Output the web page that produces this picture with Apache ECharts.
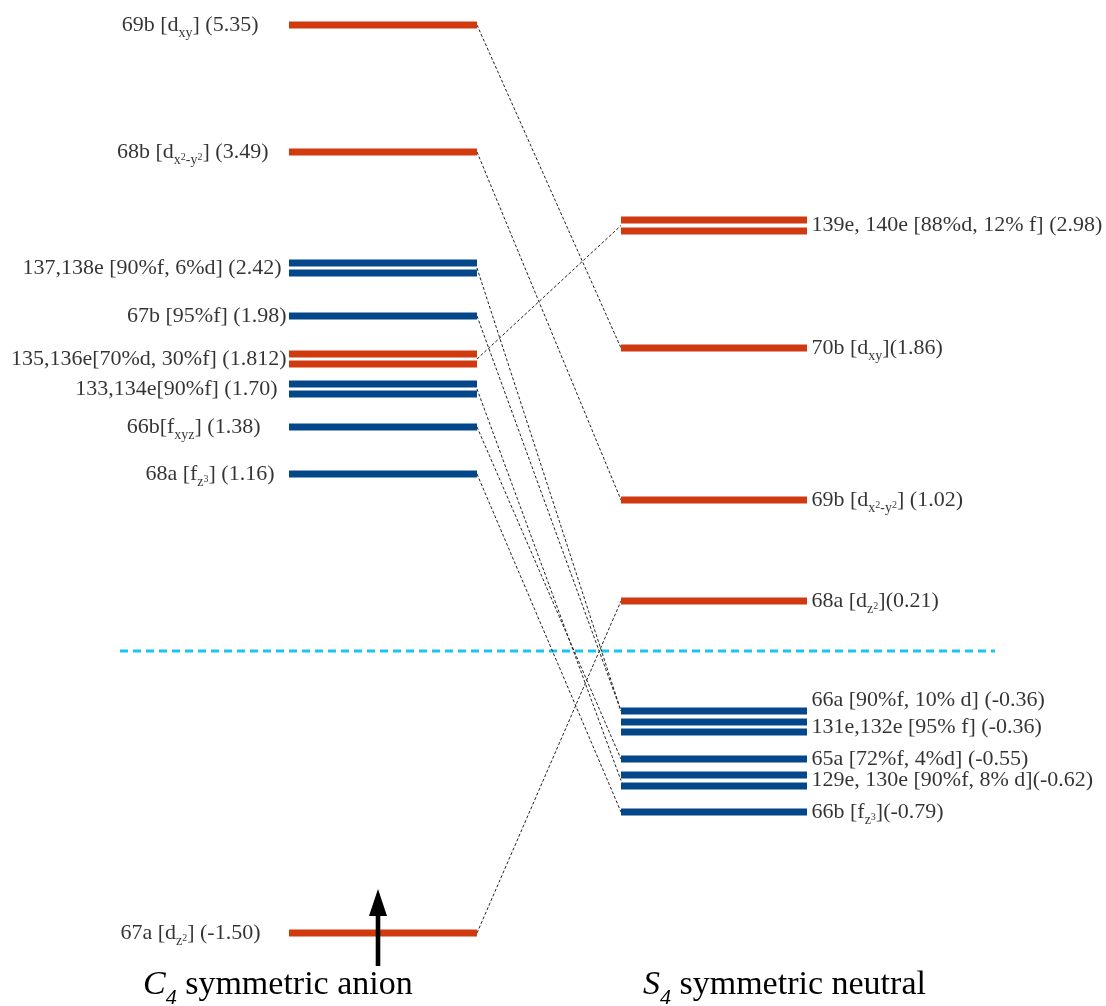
<!DOCTYPE html>
<html>
<head>
<meta charset="utf-8">
<script src="https://cdn.jsdelivr.net/npm/echarts@6/dist/echarts.min.js"></script>
<style>
html, body { margin: 0; padding: 0; background: #fff; }
#chart { width: 1106px; height: 1006px; }
</style>
</head>
<body>
<div id="chart"></div>
<script>
// C4 symmetric anion (left column), top to bottom
// _{..} = subscript, ^{..} = superscript
const leftLabels = [
    '69b [d_{xy}] (5.35)',
    '68b [d_{x^{2}-y^{2}}] (3.49)',
    '137,138e [90%f, 6%d] (2.42)',
    '67b [95%f] (1.98)',
    '135,136e[70%d, 30%f] (1.812)',
    '133,134e[90%f] (1.70)',
    '66b[f_{xyz}] (1.38)',
    '68a [f_{z^{3}}] (1.16)',
    '67a [d_{z^{2}}] (-1.50)'
];
// diagram height of each bar (degenerate e levels have two bars)
const leftLevels = [[25], [152], [263, 273], [316], [354, 364], [384, 394], [427], [474], [933]];
const leftChar = ['d', 'd', 'f', 'f', 'd', 'f', 'f', 'f', 'd'];

// S4 symmetric neutral (right column)
const rightLabels = [
    '139e, 140e [88%d, 12% f] (2.98)',
    '70b [d_{xy}](1.86)',
    '69b [d_{x^{2}-y^{2}}] (1.02)',
    '68a [d_{z^{2}}](0.21)',
    '66a [90%f, 10% d] (-0.36)',
    '131e,132e [95% f] (-0.36)',
    '65a [72%f, 4%d] (-0.55)',
    '129e, 130e [90%f, 8% d](-0.62)',
    '66b [f_{z^{3}}](-0.79)'
];
const rightLevels = [[220, 231], [348], [500], [601], [711], [722, 732], [759], [775, 786], [812]];
const rightChar = ['d', 'd', 'd', 'd', 'f', 'f', 'f', 'f', 'f'];

// correlation lines: [left level, right level]
const links = [[0, 1], [1, 2], [2, 4], [3, 4], [4, 0], [5, 7], [6, 6], [7, 8], [8, 3]];

const fermiLevel = 651;
const electronLevel = 8; // unpaired electron sits in 67a

// layout
const W = 1106, H = 1006;
const colLeft = [289, 477];
const colRight = [621, 807];
const fermiSpan = [120, 995];
const leftLabelGap = [28, 18, 5, 0, 0, 9, 26, 12, 26];
const rightLabelShift = [0, 0, 0, 0, -11, 0, 0, 0, 0];
const RED = '#D1390F';
const BLUE = '#03478A';
const INK = '#000';
const SERIF = "'Liberation Serif', 'Times New Roman', serif";

const mean = arr => arr.reduce((a, b) => a + b, 0) / arr.length;

function toRich(str) {
    const stack = ['n'];
    return str.split(/(_\{|\^\{|\})/).map(tok => {
        if (tok === '_{') { stack.push('s'); return ''; }
        if (tok === '^{') { stack.push('p'); return ''; }
        if (tok === '}') { stack.pop(); return ''; }
        return tok ? '{' + stack[stack.length - 1] + '|' + tok + '}' : '';
    }).join('');
}

const labelRich = {
    n: { fontSize: 22, lineHeight: 32, fontFamily: SERIF, color: INK },
    s: { fontSize: 14, lineHeight: 32, fontFamily: SERIF, color: INK, padding: [17, 0, 0, 0] },
    p: { fontSize: 10, lineHeight: 32, fontFamily: SERIF, color: INK, padding: [11, 0, 0, 0] }
};

const titleRich = {
    i: { fontSize: 34, fontStyle: 'italic', fontWeight: 'normal', fontFamily: SERIF, color: INK, lineHeight: 54 },
    is: { fontSize: 22, fontStyle: 'italic', fontWeight: 'normal', fontFamily: SERIF, color: INK, lineHeight: 54, padding: [26, 0, 0, 0] },
    n: { fontSize: 34, fontWeight: 'normal', fontFamily: SERIF, color: INK, lineHeight: 54 }
};

// bars: [x0, x1, y, isF]
const bars = [];
leftLevels.forEach((ys, i) => ys.forEach(y => bars.push([colLeft[0], colLeft[1], y, leftChar[i] === 'f' ? 1 : 0])));
rightLevels.forEach((ys, i) => ys.forEach(y => bars.push([colRight[0], colRight[1], y, rightChar[i] === 'f' ? 1 : 0])));

const leftLabelData = leftLabels.map((t, i) => ({
    name: t,
    value: [colLeft[0] - leftLabelGap[i], mean(leftLevels[i])],
    label: { position: 'left', distance: 2 }
}));
const rightLabelData = rightLabels.map((t, i) => ({
    name: t,
    value: [colRight[1], mean(rightLevels[i]) + rightLabelShift[i]],
    label: { position: 'right', distance: 4 }
}));

const linkData = links.map(([l, r]) => ({
    coords: [[colLeft[1], mean(leftLevels[l])], [colRight[0], mean(rightLevels[r])]]
}));

const chart = echarts.init(document.getElementById('chart'));
const options = {
    animation: false,
    backgroundColor: '#fff',
    grid: { left: 0, right: 0, top: 0, bottom: 0 },
    xAxis: { type: 'value', min: 0, max: W, show: false },
    yAxis: { type: 'value', min: 0, max: H, inverse: true, show: false },
    title: [
        {
            text: '{i|C}{is|4}{n| symmetric anion}',
            left: 143, top: 958, padding: 0,
            textStyle: { fontWeight: 'normal', rich: titleRich }
        },
        {
            text: '{i|S}{is|4}{n| symmetric neutral}',
            left: 643, top: 958, padding: 0,
            textStyle: { fontWeight: 'normal', rich: titleRich }
        }
    ],
    series: [
        {
            name: 'Fermi level',
            type: 'line',
            data: [[fermiSpan[0], fermiLevel], [fermiSpan[1], fermiLevel]],
            symbol: 'none',
            silent: true,
            lineStyle: { color: '#18C6F0', width: 3, type: [8, 5] },
            z: 1
        },
        {
            name: 'correlation',
            type: 'lines',
            coordinateSystem: 'cartesian2d',
            silent: true,
            data: linkData,
            lineStyle: { color: '#222', width: 1, type: [3, 2], opacity: 1 },
            z: 2
        },
        {
            name: 'levels',
            type: 'custom',
            data: bars,
            encode: { x: [0, 1], y: 2 },
            clip: false,
            silent: true,
            z: 3,
            renderItem: function (params, api) {
                const p0 = api.coord([api.value(0), api.value(2)]);
                const p1 = api.coord([api.value(1), api.value(2)]);
                return {
                    type: 'rect',
                    shape: { x: p0[0], y: p0[1] - 3.5, width: p1[0] - p0[0], height: 7 },
                    style: { fill: api.value(3) ? BLUE : RED }
                };
            }
        },
        {
            name: 'electron',
            type: 'custom',
            data: [[(colLeft[0] + colLeft[1]) / 2 - 5, mean(leftLevels[electronLevel])]],
            encode: { x: 0, y: 1 },
            clip: false,
            silent: true,
            z: 4,
            renderItem: function (params, api) {
                const c = api.coord([api.value(0), api.value(1)]);
                return {
                    type: 'group',
                    children: [
                        { type: 'rect', shape: { x: c[0] - 2.3, y: c[1] - 20, width: 4.6, height: 53 }, style: { fill: '#000' } },
                        { type: 'polygon', shape: { points: [[c[0], c[1] - 44], [c[0] - 9, c[1] - 17], [c[0] + 9, c[1] - 17]] }, style: { fill: '#000' } }
                    ]
                };
            }
        },
        {
            name: 'labels',
            type: 'scatter',
            data: leftLabelData.concat(rightLabelData),
            symbolSize: 1,
            itemStyle: { color: 'transparent' },
            silent: true,
            z: 5,
            label: {
                show: true,
                formatter: p => toRich(p.name),
                fontFamily: SERIF,
                fontSize: 22,
                color: INK,
                rich: labelRich
            }
        }
    ]
};
chart.setOption(options, true);
</script>
</body>
</html>
